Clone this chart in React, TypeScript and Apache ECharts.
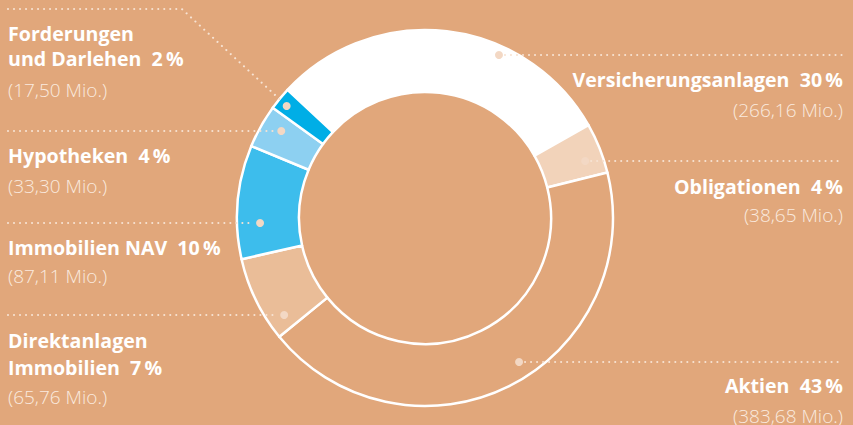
import React, { useEffect, useRef } from "react";
import * as echarts from "echarts";

const categories = [
  "Versicherungsanlagen",
  "Obligationen",
  "Aktien",
  "Direktanlagen Immobilien",
  "Immobilien NAV",
  "Hypotheken",
  "Forderungen und Darlehen",
];
const values = [266.16, 38.65, 383.68, 65.76, 87.11, 33.3, 17.5];
const nameLines = [
  ["Versicherungsanlagen"],
  ["Obligationen"],
  ["Aktien"],
  ["Direktanlagen", "Immobilien"],
  ["Immobilien NAV"],
  ["Hypotheken"],
  ["Forderungen", "und Darlehen"],
];

// styling / layout (not data)
const BG = "#E1A77B";
const sliceColors = ["#FFFFFF", "#F2D3BA", BG, "#EABD98", "#3DBDEC", "#8DD0F1", "#00AEE6"];
const W = 853;
const H = 425;
const CX = 425;
const CY = 218;
const R_IN = 126;
const R_OUT = 188;
const layout = [
  { side: "right", lineY: 55, textY: [78, 109], dotR: 179 },
  { side: "right", lineY: 161, textY: [185, 214], dotR: 170 },
  { side: "right", lineY: 362, textY: [384, 414.5], dotR: 172 },
  { side: "left", lineY: 315, textY: [339, 366.5, 395.5], dotR: 171 },
  { side: "left", lineY: 223, textY: [246.5, 275], dotR: 165 },
  { side: "left", lineY: 131, textY: [154.5, 184.5], dotR: 168 },
  { side: "left", lineY: 9, textY: [32, 57, 89], dotR: 178, elbowY: 106 },
];

export default function App() {
  const ref = useRef<HTMLDivElement>(null);
  useEffect(() => {
    if (!ref.current) return;
    const chart = echarts.init(ref.current, null, { renderer: "svg" });
    const total = values.reduce((a, b) => a + b, 0);
    const graphics: any[] = [];
    const boldFont = '700 19.6px "Open Sans"';
    const lightFont = '300 19px "Open Sans"';
    const dotColor = "#F3D8C4";
    const lineStyle = { stroke: "#F7E3D3", lineWidth: 2.1, lineDash: [0.01, 6], lineCap: "round", fill: null };

    values.forEach((v, i) => {
      const L: any = layout[i];
      const pct = Math.round((v / total) * 100);
      const amount = "(" + v.toFixed(2).replace(".", ",") + " Mio.)";
      const right = L.side === "right";
      const dotY = L.elbowY ?? L.lineY;
      const dy = dotY - CY;
      const dx = Math.sqrt(Math.max(0, L.dotR * L.dotR - dy * dy));
      const dotX = right ? CX + dx : CX - dx;
      let pts: number[][];
      if (right) {
        pts = [[dotX + 6, L.lineY], [843, L.lineY]];
      } else if (L.elbowY != null) {
        const elbowX = dotX - (L.elbowY - L.lineY) * 1.08;
        pts = [[8, L.lineY], [elbowX, L.lineY], [dotX - 4, L.elbowY - 4]];
      } else {
        pts = [[8, L.lineY], [dotX - 6, L.lineY]];
      }
      graphics.push({ type: "polyline", z: 100, shape: { points: pts }, style: lineStyle, silent: true });
      graphics.push({ type: "circle", z: 101, shape: { cx: dotX, cy: dotY, r: 4 }, style: { fill: dotColor }, silent: true });

      const lines = nameLines[i].slice();
      lines[lines.length - 1] = lines[lines.length - 1] + "  " + pct + "\u2009%";
      const tx = right ? 843 : 8;
      const align = right ? "right" : "left";
      lines.forEach((t, k) => {
        graphics.push({
          type: "text",
          z: 100,
          x: tx,
          y: L.textY[k] + 1,
          style: { text: t, fill: "#FFFFFF", font: boldFont, textAlign: align, textVerticalAlign: "middle", align, verticalAlign: "middle" },
          silent: true,
        });
      });
      graphics.push({
        type: "text",
        z: 100,
        x: tx,
        y: L.textY[lines.length] + 1,
        style: { text: amount, fill: "#FAEADF", font: lightFont, textAlign: align, textVerticalAlign: "middle", align, verticalAlign: "middle" },
        silent: true,
      });
    });

    chart.setOption({
      animation: false,
      backgroundColor: BG,
      series: [
        {
          type: "pie",
          center: [CX, CY],
          radius: [R_IN, R_OUT],
          startAngle: 137,
          clockwise: true,
          label: { show: false },
          labelLine: { show: false },
          silent: true,
          z: 2,
          itemStyle: { borderColor: "#FFFFFF", borderWidth: 2.5 },
          data: categories.map((c, i) => ({ name: c, value: values[i], itemStyle: { color: sliceColors[i] } })),
        },
      ],
      graphic: { elements: graphics },
    });
    return () => chart.dispose();
  }, []);
  return (
    <div
      ref={ref}
      style={{ position: "fixed", left: 0, top: 0, width: W, height: H, background: BG }}
    />
  );
}
